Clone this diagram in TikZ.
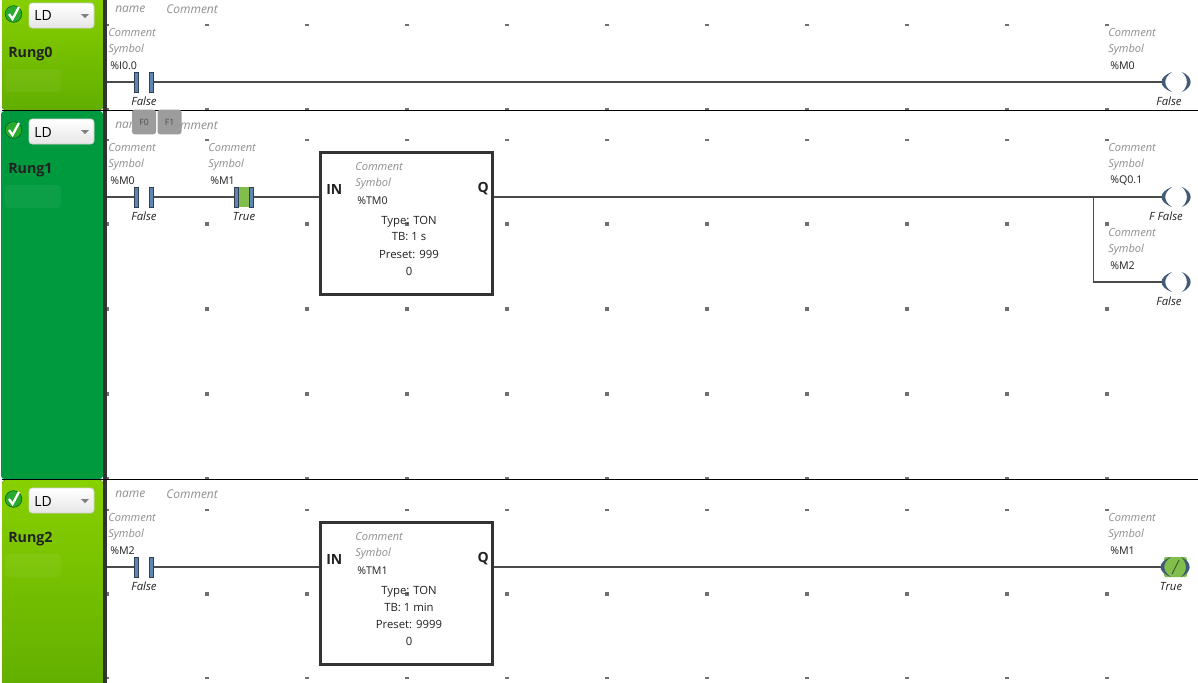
\documentclass[tikz,border=0pt]{standalone}
\usepackage{fontspec}
\setmainfont{Open Sans}
\definecolor{railbar}{HTML}{333333}
\definecolor{wirecol}{HTML}{4A4A4A}
\definecolor{platecol}{HTML}{5F86B3}
\definecolor{platedge}{HTML}{2F4050}
\definecolor{hintcol}{HTML}{8F8F8F}
\definecolor{keycol}{HTML}{9C9C9C}
\definecolor{inkcol}{HTML}{222222}
\definecolor{dotcol}{HTML}{707070}
\definecolor{truecol}{HTML}{82BE4B}
\definecolor{sidetop}{HTML}{88D000}
\definecolor{sidelow}{HTML}{62AE00}
\definecolor{sideon}{HTML}{009A3E}
% left panel of one rung: name, top, bottom, y of the title, left edge, colours
\newcommand{\rungside}[6]{%
  \fill[#6, rounded corners=2.5pt] (#5,#2) rectangle (103,#3);
  \fill[railbar] (103,#2) rectangle (107,#3);
  \node[chk] (#1chk) at (13.5,#4-39) {};
  \draw[white, line width=1.7pt] (9,#4-39) -- (12.5,#4-34) -- (19,#4-46);
  \node[combo, minimum width=48.75pt, minimum height=18.75pt] (#1combo) at (61.5,#4-37.5) {};
  \node[lbl, font=\fontsize{10.5}{12}\selectfont] (#1ld) at (34,#4-37) {LD};
  \fill[gray] (81,#4-39) -- (89,#4-39) -- (85,#4-35) -- cycle;
  \node[lbl, font=\fontsize{10.7}{12}\bfseries\selectfont, text=inkcol] (#1title) at (8,#4+1) {#1};
  \fill[white, opacity=.05, rounded corners=2.5pt] (5,#4+16) rectangle (61,#4+39);
}
% comment, symbol and address above an element
\newcommand{\tags}[4]{%
  \node[hint] (#1c) at (#2,#3+1) {Comment};
  \node[hint] (#1s) at (#2,#3+18) {Symbol};
  \node[addr] (#1a) at (#2+2,#3+34) {#4};
}
% contact: two plates, (#1l) and (#1r) hold the ends for the wires
\newcommand{\contact}[3]{%
  \node[plate] (#1l) at (#2,#3) {};
  \node[plate] (#1r) at (#2+15,#3) {};
}
% coil: two crescents inside an empty node
\newcommand{\coil}[3]{%
  \node[coilbox] (#1) at (#2,#3) {};
  \fill[bracket] (#2-5,#3-10) .. controls (#2-19,#3-5) and (#2-19,#3+5) .. (#2-5,#3+10)
    .. controls (#2-14,#3+4) and (#2-14,#3-4) .. (#2-5,#3-10);
  \fill[bracket] (#2+5,#3-10) .. controls (#2+16.5,#3-5) and (#2+16.5,#3+5) .. (#2+5,#3+10)
    .. controls (#2+11.5,#3+4) and (#2+11.5,#3-4) .. (#2+5,#3-10);
}
% timer block: name, top, address, time base, preset
\newcommand{\timerblock}[5]{%
  \node[timer] (#1) at (406.5,#2+71.5) {};
  \node[pin, anchor=west] (#1in) at (326,#2+37) {IN};
  \node[pin, anchor=east] (#1q) at (489,#2+37) {Q};
  \node[hint] (#1c) at (355,#2+15) {Comment};
  \node[hint] (#1s) at (355,#2+32) {Symbol};
  \node[addr] (#1a) at (357,#2+49) {#3};
  \node[val] (#1ty) at (409,#2+70) {Type: TON};
  \node[val] (#1tb) at (409,#2+85) {TB: #4};
  \node[val] (#1pr) at (409,#2+102) {Preset: #5};
  \node[val] (#1cv) at (409,#2+119) {0};
}
\begin{document}
\begin{tikzpicture}[x=0.75pt, y=-0.75pt,
    lbl/.style={anchor=west, inner sep=0pt},
    hint/.style={lbl, text=hintcol, font=\fontsize{8.3}{10}\itshape\selectfont},
    addr/.style={lbl, text=inkcol, font=\fontsize{8}{10}\selectfont},
    state/.style={inner sep=0pt, text=inkcol, font=\fontsize{8.5}{10}\itshape\selectfont},
    val/.style={inner sep=0pt, text=inkcol, font=\fontsize{8.5}{10}\selectfont},
    pin/.style={inner sep=0pt, text=inkcol, font=\fontsize{10.5}{12}\bfseries\selectfont},
    head/.style={lbl, text=hintcol, font=\fontsize{9}{10}\itshape\selectfont},
    chk/.style={circle, minimum size=12.5pt, inner sep=0pt, fill=sideon!70!sidetop, draw=sideon!60!black, line width=.4pt},
    combo/.style={draw=gray!35, top color=white, bottom color=gray!20, rounded corners=2.5pt, inner sep=0pt, line width=.6pt},
    plate/.style={draw=platedge, fill=platecol, minimum width=3pt, minimum height=15pt, inner sep=0pt, line width=.5pt},
    coilbox/.style={minimum width=22.5pt, minimum height=13.5pt, inner sep=0pt},
    bracket/.style={fill=platedge!60!platecol},
    wire/.style={draw=wirecol, line width=1.1pt},
    timer/.style={draw=railbar, line width=1.8pt, minimum width=129pt, minimum height=106.5pt, inner sep=0pt},
    fkey/.style={fill=keycol, rounded corners=2pt, minimum width=18pt, minimum height=18.5pt, inner sep=0pt, text=inkcol!80!white, font=\fontsize{6.5}{8}\selectfont}]
  \useasboundingbox (0,0) rectangle (1198,682);
  \fill[white] (0,0) rectangle (1198,682);
  %grid dots
  \foreach \gy in {224,309,394,594}
    \foreach \gx in {107,207,...,1107}
      \fill[dotcol] (\gx-1.7,\gy-1.7) rectangle (\gx+1.7,\gy+1.7);
  \foreach \gy in {24.5,108.5,139.5,478,509.5,678}
    \foreach \gx in {107,207,...,1107}
      \fill[dotcol] (\gx-1.7,\gy-1) rectangle (\gx+1.7,\gy+1);
  %left panels
  \rungside{Rung0}{-4}{110}{53}{2}{top color=sidetop, bottom color=sidelow}
  \rungside{Rung1}{111}{479}{169}{1}{sideon}
  \rungside{Rung2}{480}{690}{538}{2}{top color=sidetop, bottom color=sidelow}
  \draw[black, line width=.6pt] (2,110) -- (1198,110);
  \draw[black, line width=.6pt] (2,479.5) -- (1198,479.5);
  %rung 0
  \node[head] (n0) at (115,9) {name};
  \node[head] (m0) at (166,9) {Comment};
  \tags{a0}{108}{32}{\%I0.0}
  \contact{a0}{136.5}{82}
  \node[state] (a0v) at (144,101.5) {False};
  \tags{q0}{1108}{32}{\%M0}
  \coil{q0coil}{1177}{82}
  \node[state] (q0v) at (1169,101.5) {False};
  \coordinate (w0) at (107,82);
  \draw[wire] (w0) -- (a0l) (a0r) -- (q0coil);
  %rung 1
  \node[head] (n1) at (115,125) {name};
  \node[head] (m1) at (166,125) {Comment};
  \node[fkey] (f0) at (144,122) {F0};
  \node[fkey] (f1) at (169.5,122) {F1};
  \tags{a1}{108}{147}{\%M0}
  \contact{a1}{136.5}{197}
  \node[state] (a1v) at (144,216.5) {False};
  \tags{b1}{208}{147}{\%M1}
  \fill[truecol] (235.5,187) rectangle (252.5,207);
  \contact{b1}{236.5}{197}
  \node[state] (b1v) at (244,216.5) {True};
  \timerblock{tm0}{152}{\%TM0}{1 s}{999}
  \tags{q1}{1108}{147}{\%Q0.1}
  \coil{q1coil}{1177}{197}
  \node[state] (q1v) at (1166,216.5) {F False};
  \tags{m2}{1108}{232}{\%M2}
  \coil{m2coil}{1177}{282}
  \node[state] (m2v) at (1169,301.5) {False};
  \coordinate (w1) at (107,197);
  \coordinate (j1) at (1093.5,197);
  \draw[wire] (w1) -- (a1l) (a1r) -- (b1l) (b1r) -- (tm0.west |- b1r);
  \draw[wire] (tm0.east |- j1) -- (j1) -- (q1coil);
  \draw[wire] (j1) |- (m2coil);
  %rung 2
  \node[head] (n2) at (115,494) {name};
  \node[head] (m2h) at (166,494) {Comment};
  \tags{a2}{108}{517}{\%M2}
  \contact{a2}{136.5}{567}
  \node[state] (a2v) at (144,586.5) {False};
  \timerblock{tm1}{522}{\%TM1}{1 min}{9999}
  \tags{q2}{1108}{517}{\%M1}
  \fill[truecol, rounded corners=1.5pt] (1164,557) rectangle (1187,577);
  \coil{q2coil}{1176}{567}
  \draw[inkcol!70!truecol, line width=.7pt] (1172,574) -- (1179,560);
  \node[state] (q2v) at (1171,586.5) {True};
  \coordinate (w2) at (107,567);
  \draw[wire] (w2) -- (a2l) (a2r) -- (tm1.west |- a2r);
  \draw[wire] (tm1.east |- q2coil) -- (q2coil);
\end{tikzpicture}
\end{document}
